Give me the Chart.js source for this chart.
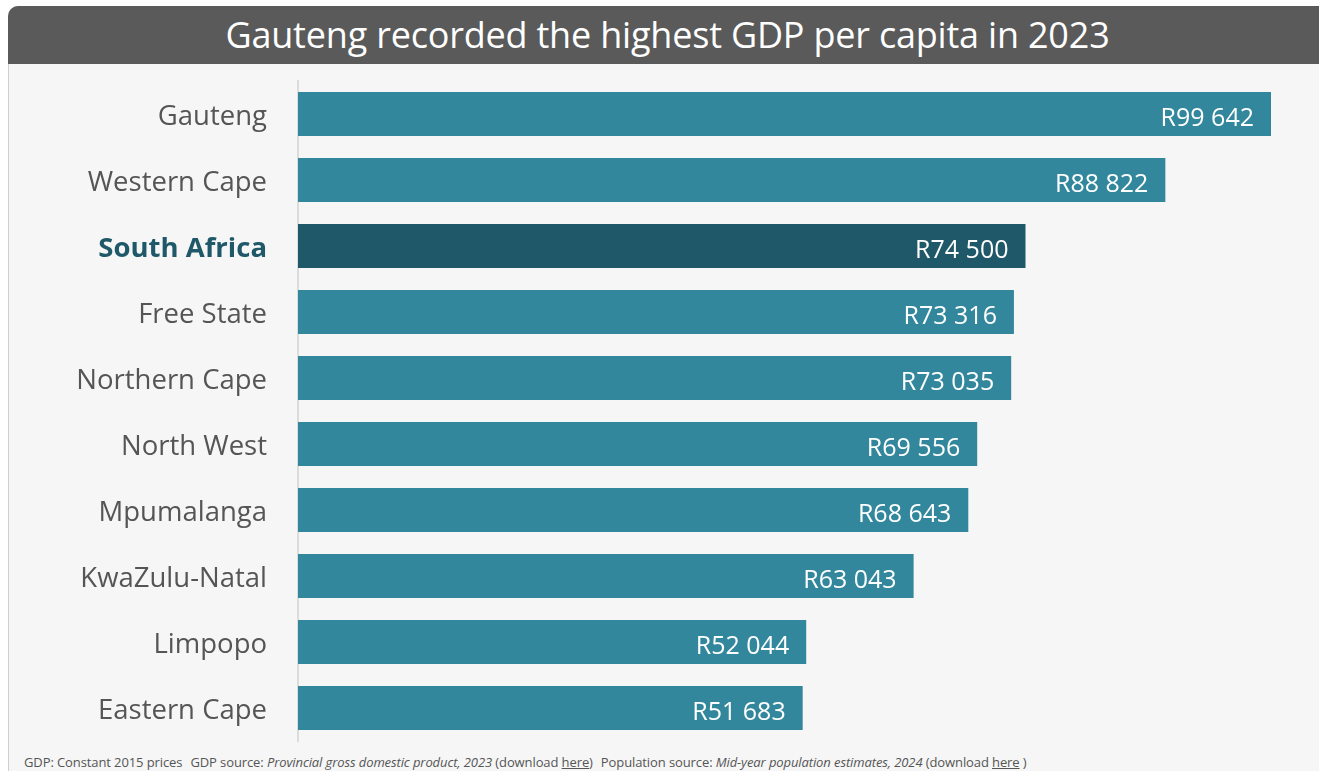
<!DOCTYPE html>
<html>
<head>
<meta charset="utf-8">
<script src="https://cdn.jsdelivr.net/npm/chart.js@4"></script>
<style>
  html, body { margin: 0; padding: 0; background: #ffffff; overflow: hidden; }
  body { width: 1319px; height: 771px; position: relative; font-family: "Open Sans", sans-serif; }
  #frame {
    position: absolute; left: 8px; top: 6px; width: 1330px; height: 775px;
    background: #f6f6f6; border: 1px solid #cfcfcf; border-radius: 10px; overflow: hidden;
    box-sizing: border-box;
  }
  #header {
    position: absolute; left: 8px; top: 6px; width: 1319px; height: 58px;
    background: #5a5a5a; border-radius: 10px 0 0 0;
    color: #ffffff; font-size: 36px; line-height: 58px; text-align: center;
    letter-spacing: -0.2px;
  }
  #wrap { position: absolute; left: 0; top: 64px; width: 1319px; height: 680px; }
  #footer {
    position: absolute; left: 24px; top: 753px; font-size: 13px; color: #555555;
    white-space: nowrap; letter-spacing: -0.1px;
  }
  #footer i { font-style: italic; }
  #footer u { text-decoration: underline; }
  .gap { display: inline-block; width: 8px; }
</style>
</head>
<body>
<div id="frame"></div>
<div id="header">Gauteng recorded the highest GDP per capita in 2023</div>
<div id="wrap"><canvas id="chart"></canvas></div>
<div id="footer">GDP: Constant 2015 prices<span class="gap"></span>GDP source: <i>Provincial gross domestic product, 2023</i> (download <u>here</u>)<span class="gap"></span>Population source: <i>Mid-year population estimates, 2024</i> (download <u>here</u> )</div>
<script>
const provinces = ['Gauteng', 'Western Cape', 'South Africa', 'Free State', 'Northern Cape',
  'North West', 'Mpumalanga', 'KwaZulu-Natal', 'Limpopo', 'Eastern Cape'];
const gdpPerCapita = [99642, 88822, 74500, 73316, 73035, 69556, 68643, 63043, 52044, 51683];
const highlight = 'South Africa';

const BAR = '#33879c';
const BAR_DARK = '#1f5868';

function rand(v) {
  const s = String(v);
  return 'R' + s.slice(0, s.length - 3) + ' ' + s.slice(-3);
}

// value labels drawn inside the end of each bar
const valueLabels = {
  id: 'valueLabels',
  afterDatasetsDraw(chart) {
    const ctx = chart.ctx;
    const meta = chart.getDatasetMeta(0);
    ctx.save();
    ctx.font = '25px "Open Sans", sans-serif';
    ctx.fillStyle = '#ffffff';
    ctx.textAlign = 'right';
    ctx.textBaseline = 'middle';
    meta.data.forEach((bar, i) => {
      ctx.fillText(rand(gdpPerCapita[i]), bar.x - 17, bar.y + 5);
    });
    ctx.restore();
  }
};

new Chart(document.getElementById('chart'), {
  type: 'bar',
  data: {
    labels: provinces,
    datasets: [{
      data: gdpPerCapita,
      backgroundColor: provinces.map(p => p === highlight ? BAR_DARK : BAR),
      barPercentage: 1,
      categoryPercentage: 0.667
    }]
  },
  options: {
    indexAxis: 'y',
    responsive: true,
    maintainAspectRatio: false,
    animation: false,
    layout: { padding: { top: 17, right: 44.5, bottom: 3, left: 0 } },
    plugins: {
      legend: { display: false },
      tooltip: { enabled: false }
    },
    scales: {
      x: { display: false, min: 0, max: 100000 },
      y: {
        afterFit: (scale) => {
          scale.width = 298;
          // tick padding would otherwise be added above and below the axis
          scale.paddingTop = 0;
          scale.paddingBottom = 0;
        },
        grid: { display: false, drawTicks: false },
        border: { display: true, color: '#dcdcdc', width: 2 },
        ticks: {
          padding: 31,
          labelOffset: 3,
          color: (c) => provinces[c.index] === highlight ? BAR_DARK : '#555555',
          font: (c) => ({
            family: '"Open Sans", sans-serif',
            size: 27.5,
            weight: provinces[c.index] === highlight ? 'bold' : 'normal'
          })
        }
      }
    }
  },
  plugins: [valueLabels]
});
</script>
</body>
</html>
